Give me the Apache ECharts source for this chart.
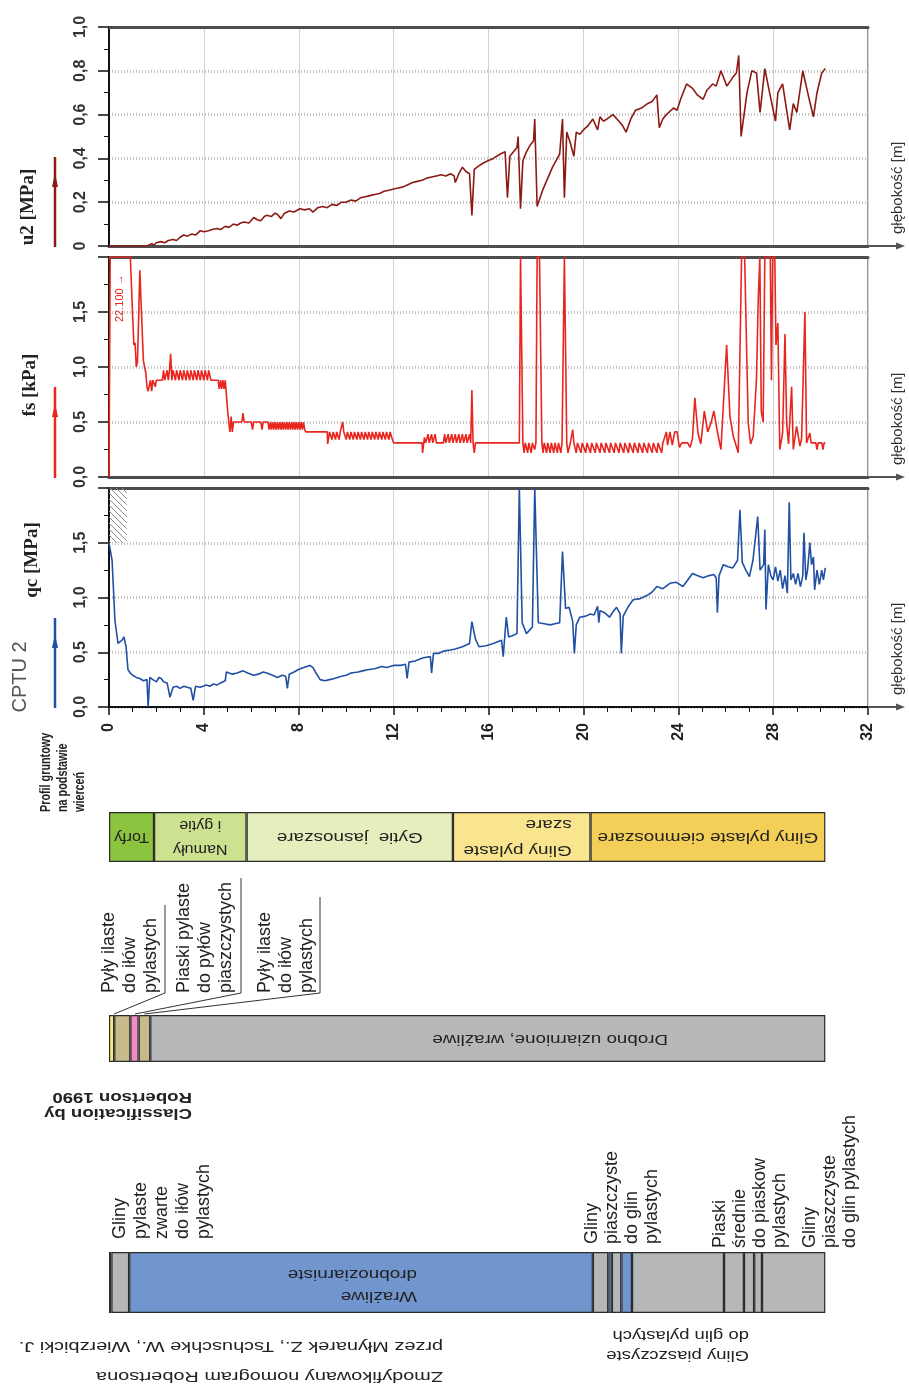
<!DOCTYPE html>
<html><head><meta charset="utf-8">
<script src="https://cdn.jsdelivr.net/npm/echarts@6/dist/echarts.min.js"></script>
<style>html,body{margin:0;padding:0;background:#fff}#c{width:909px;height:1388px}</style>
</head><body><div id="c"></div>
<script>
// ---------------- DATA ----------------
// depth [m], value
const u2Data = [[0,0],[1.6,0],[1.8,0.01],[1.9,0.005],[2.0,0.015],[2.2,0.02],[2.35,0.015],[2.5,0.025],[2.7,0.03],[2.85,0.025],[3.0,0.04],[3.15,0.05],[3.3,0.045],[3.5,0.055],[3.65,0.05],[3.85,0.07],[4.0,0.065],[4.2,0.07],[4.35,0.075],[4.55,0.08],[4.7,0.075],[4.9,0.09],[5.05,0.085],[5.25,0.10],[5.4,0.095],[5.55,0.105],[5.7,0.11],[5.9,0.105],[6.1,0.13],[6.25,0.12],[6.4,0.115],[6.55,0.135],[6.65,0.14],[6.85,0.135],[7.0,0.15],[7.1,0.145],[7.25,0.125],[7.4,0.15],[7.6,0.16],[7.8,0.155],[8.05,0.17],[8.25,0.165],[8.45,0.17],[8.6,0.155],[8.8,0.175],[9.0,0.18],[9.2,0.175],[9.4,0.19],[9.6,0.185],[9.8,0.2],[10.0,0.2],[10.2,0.21],[10.4,0.205],[10.6,0.22],[10.8,0.225],[11.0,0.23],[11.2,0.235],[11.4,0.24],[11.6,0.25],[11.8,0.255],[12.0,0.26],[12.2,0.265],[12.4,0.27],[12.6,0.28],[12.8,0.29],[13.0,0.295],[13.2,0.30],[13.4,0.31],[13.6,0.315],[13.8,0.32],[14.0,0.325],[14.2,0.32],[14.4,0.33],[14.55,0.32],[14.6,0.29],[14.75,0.33],[14.9,0.36],[15.05,0.34],[15.2,0.33],[15.3,0.14],[15.4,0.35],[15.65,0.37],[15.8,0.38],[16.0,0.39],[16.2,0.40],[16.5,0.42],[16.7,0.43],[16.8,0.22],[16.9,0.41],[17.2,0.45],[17.25,0.50],[17.35,0.17],[17.45,0.39],[17.6,0.43],[17.75,0.46],[17.9,0.48],[17.95,0.58],[18.05,0.18],[18.3,0.26],[18.5,0.31],[18.7,0.36],[18.85,0.39],[19.0,0.42],[19.12,0.58],[19.2,0.22],[19.3,0.52],[19.45,0.47],[19.6,0.41],[19.7,0.52],[19.85,0.51],[20.0,0.53],[20.2,0.55],[20.4,0.58],[20.6,0.53],[20.7,0.59],[20.85,0.57],[21.0,0.58],[21.25,0.60],[21.5,0.57],[21.65,0.55],[21.8,0.52],[22.0,0.58],[22.2,0.62],[22.45,0.63],[22.7,0.65],[22.9,0.66],[23.1,0.69],[23.2,0.54],[23.35,0.58],[23.5,0.60],[23.8,0.63],[23.95,0.62],[24.1,0.67],[24.35,0.74],[24.6,0.72],[24.8,0.69],[25.05,0.67],[25.2,0.71],[25.45,0.74],[25.6,0.73],[25.8,0.80],[26.05,0.73],[26.3,0.77],[26.45,0.79],[26.55,0.87],[26.65,0.50],[26.9,0.70],[27.1,0.80],[27.3,0.79],[27.45,0.61],[27.65,0.81],[27.85,0.70],[28.1,0.57],[28.2,0.70],[28.4,0.74],[28.5,0.67],[28.7,0.53],[28.85,0.65],[29.0,0.61],[29.25,0.80],[29.5,0.68],[29.7,0.59],[29.85,0.70],[30.05,0.79],[30.2,0.81]];

const fsData = [[0,0],[0.05,2],[0.9,2],[1.0,1.45],[1.05,1.2],[1.1,1.22],[1.15,1.0],[1.2,1.05],[1.25,1.45],[1.3,1.88],[1.35,1.6],[1.45,1.06],[1.5,1.0],[1.55,0.95],[1.6,0.82],[1.65,0.78],[1.75,0.88],[1.8,0.78],[1.85,0.88],[1.95,0.82],[2.0,0.88],[2.25,0.88],
[2.3,0.97],[2.35,0.88],[2.45,0.97],[2.5,0.88],[2.55,0.97],[2.6,1.12],[2.65,0.88],[2.7,0.97],[2.8,0.88],[2.85,0.97],[2.95,0.88],[3.0,0.97],[3.1,0.88],[3.15,0.97],[3.25,0.88],[3.3,0.97],[3.4,0.88],[3.45,0.97],[3.55,0.88],[3.6,0.97],[3.7,0.88],[3.75,0.97],[3.85,0.88],[3.9,0.97],[4.0,0.88],[4.05,0.97],[4.15,0.88],[4.2,0.97],[4.3,0.88],[4.6,0.88],[4.65,0.8],[4.7,0.88],[4.75,0.8],[4.8,0.88],[4.85,0.8],[4.9,0.88],[4.95,0.88],
[5.0,0.61],[5.05,0.5],[5.1,0.41],[5.15,0.55],[5.2,0.41],[5.25,0.5],[5.6,0.5],[5.65,0.58],[5.7,0.5],[6.0,0.5],[6.05,0.43],[6.1,0.5],[6.4,0.5],[6.45,0.43],[6.5,0.5],[6.7,0.5],
[6.75,0.43],[6.8,0.5],[6.85,0.43],[6.9,0.5],[6.95,0.43],[7.0,0.5],[7.05,0.43],[7.1,0.5],[7.15,0.43],[7.2,0.5],[7.25,0.43],[7.3,0.5],[7.35,0.43],[7.4,0.5],[7.45,0.43],[7.5,0.5],[7.55,0.43],[7.6,0.5],[7.65,0.43],[7.7,0.5],[7.75,0.43],[7.8,0.5],[7.85,0.43],[7.9,0.5],[7.95,0.43],[8.0,0.5],[8.05,0.43],[8.1,0.5],[8.15,0.43],[8.2,0.5],[8.25,0.43],[8.3,0.41],
[9.2,0.41],[9.22,0.3],[9.3,0.41],[9.4,0.34],[9.45,0.41],[9.55,0.34],[9.6,0.41],[9.7,0.34],[9.75,0.41],[9.85,0.5],[9.9,0.41],[10.0,0.34],[10.05,0.41],[10.15,0.34],[10.2,0.41],[10.3,0.34],[10.35,0.41],[10.45,0.34],[10.5,0.41],[10.6,0.34],[10.65,0.41],[10.75,0.34],[10.8,0.41],[10.9,0.34],[10.95,0.41],[11.05,0.34],[11.1,0.41],[11.2,0.34],[11.25,0.41],[11.35,0.34],[11.4,0.41],[11.5,0.34],[11.55,0.41],[11.65,0.34],[11.7,0.41],[11.8,0.34],[11.85,0.41],[11.95,0.34],[12.0,0.31],
[13.2,0.31],[13.22,0.22],[13.3,0.36],[13.35,0.31],[13.45,0.39],[13.5,0.31],[13.6,0.39],[13.65,0.31],[13.75,0.39],[13.8,0.31],[14.1,0.31],[14.15,0.39],[14.2,0.31],[14.3,0.39],[14.35,0.31],[14.45,0.39],[14.5,0.31],[14.6,0.39],[14.65,0.31],[14.75,0.39],[14.8,0.31],[14.9,0.39],[14.95,0.31],[15.05,0.39],[15.1,0.31],[15.2,0.39],[15.25,0.31],[15.3,0.79],[15.35,0.31],[15.4,0.22],[15.45,0.31],
[17.3,0.31],[17.35,2],[17.45,0.31],[17.5,0.22],[17.55,0.31],[17.65,0.22],[17.7,0.31],[17.8,0.22],[17.85,0.31],[17.95,0.25],[18.0,0.31],[18.05,2],[18.15,2],[18.25,0.31],[18.3,0.22],[18.35,0.31],[18.45,0.22],[18.5,0.31],[18.6,0.22],[18.65,0.31],[18.75,0.22],[18.8,0.31],[18.9,0.22],[18.95,0.31],[19.05,0.22],[19.1,0.31],[19.2,2],[19.3,0.31],[19.35,0.22],[19.45,0.31],[19.55,0.43],[19.6,0.31],[19.7,0.22],[19.75,0.31],
[19.9,0.22],[19.95,0.31],[20.1,0.22],[20.15,0.31],[20.3,0.22],[20.35,0.31],[20.5,0.22],[20.55,0.31],[20.7,0.22],[20.75,0.31],[20.9,0.22],[20.95,0.31],[21.1,0.22],[21.15,0.31],[21.3,0.22],[21.35,0.31],[21.5,0.22],[21.55,0.31],[21.7,0.22],[21.75,0.31],[21.9,0.22],[21.95,0.31],[22.1,0.22],[22.15,0.31],[22.3,0.22],[22.35,0.31],[22.5,0.22],[22.55,0.31],[22.7,0.22],[22.75,0.31],[22.9,0.22],[22.95,0.31],[23.1,0.22],[23.15,0.31],[23.3,0.22],[23.35,0.31],
[23.5,0.41],[23.55,0.29],[23.65,0.41],[23.75,0.29],[23.85,0.41],[23.95,0.41],[24.05,0.27],[24.15,0.31],[24.4,0.31],[24.5,0.27],[24.6,0.35],[24.7,0.72],[24.83,0.40],[24.95,0.3],[25.1,0.6],[25.24,0.41],[25.38,0.49],[25.5,0.6],[25.66,0.4],[25.8,0.25],[26.04,1.2],[26.18,0.55],[26.32,0.37],[26.53,0.22],[26.67,2],[26.8,2],[26.95,0.49],[27.05,0.3],[27.16,0.37],[27.3,0.9],[27.37,1.6],[27.44,2],[27.5,0.6],[27.58,0.5],[27.65,2],[27.88,2],[27.93,0.88],[27.98,2],[28.07,2],[28.12,1.2],[28.2,1.4],[28.28,0.25],[28.4,0.4],[28.5,1.3],[28.57,0.49],[28.65,0.3],[28.78,0.82],[28.85,0.25],[28.99,0.46],[29.13,0.28],[29.2,0.35],[29.34,1.5],[29.41,0.31],[29.55,0.4],[29.6,0.31],[29.8,0.31],[29.85,0.25],[29.9,0.31],[30.05,0.31],[30.1,0.25],[30.15,0.31],[30.2,0.31]];

const qcData = [[0,1.50],[0.13,1.34],[0.25,0.79],[0.38,0.58],[0.55,0.61],[0.63,0.64],[0.72,0.55],[0.8,0.34],[0.9,0.31],[1.0,0.29],[1.15,0.27],[1.3,0.26],[1.45,0.24],[1.6,0.25],[1.65,0.0],[1.72,0.27],[1.85,0.25],[2.0,0.23],[2.1,0.27],[2.2,0.26],[2.3,0.23],[2.45,0.22],[2.57,0.09],[2.7,0.18],[2.85,0.19],[3.0,0.17],[3.15,0.19],[3.3,0.18],[3.45,0.17],[3.55,0.06],[3.65,0.19],[3.85,0.18],[4.1,0.20],[4.25,0.19],[4.4,0.21],[4.55,0.20],[4.7,0.22],[4.9,0.24],[4.95,0.32],[5.2,0.30],[5.4,0.31],[5.65,0.33],[5.85,0.31],[6.1,0.29],[6.3,0.30],[6.5,0.32],[6.65,0.31],[6.9,0.29],[7.1,0.27],[7.3,0.29],[7.45,0.28],[7.52,0.17],[7.6,0.30],[7.8,0.32],[7.97,0.34],[8.2,0.36],[8.47,0.38],[8.6,0.36],[8.7,0.32],[8.9,0.25],[9.1,0.24],[9.3,0.25],[9.5,0.26],[9.8,0.28],[10.0,0.29],[10.2,0.31],[10.5,0.32],[10.7,0.33],[10.9,0.34],[11.2,0.35],[11.5,0.37],[11.7,0.36],[12.0,0.38],[12.3,0.38],[12.5,0.39],[12.57,0.26],[12.65,0.41],[12.9,0.42],[13.25,0.45],[13.55,0.46],[13.6,0.31],[13.68,0.49],[13.9,0.49],[14.1,0.51],[14.4,0.52],[14.6,0.53],[14.9,0.55],[15.2,0.58],[15.3,0.78],[15.45,0.62],[15.6,0.55],[15.9,0.56],[16.2,0.58],[16.55,0.61],[16.62,0.46],[16.75,0.82],[16.85,0.64],[17.0,0.65],[17.2,0.67],[17.3,2.0],[17.42,0.77],[17.6,0.67],[17.85,0.73],[17.95,2.0],[18.1,0.77],[18.35,0.76],[18.6,0.75],[18.8,0.76],[19.0,0.77],[19.12,1.42],[19.25,0.90],[19.4,0.91],[19.55,0.78],[19.62,0.49],[19.7,0.75],[19.85,0.82],[20.1,0.83],[20.3,0.85],[20.45,0.84],[20.6,0.92],[20.65,0.77],[20.7,0.88],[20.9,0.86],[21.1,0.82],[21.25,0.87],[21.4,0.91],[21.55,0.85],[21.6,0.49],[21.68,0.83],[21.9,0.92],[22.1,0.98],[22.4,0.99],[22.7,1.02],[22.9,1.05],[23.1,1.10],[23.35,1.08],[23.65,1.13],[23.9,1.14],[24.2,1.10],[24.4,1.16],[24.6,1.22],[24.8,1.20],[25.05,1.18],[25.3,1.20],[25.5,1.21],[25.6,1.18],[25.65,0.86],[25.72,1.20],[25.9,1.30],[26.1,1.28],[26.3,1.27],[26.5,1.34],[26.6,1.80],[26.7,1.32],[26.85,1.25],[27.0,1.19],[27.15,1.34],[27.35,1.74],[27.45,1.25],[27.6,1.30],[27.65,1.62],[27.7,0.89],[27.8,1.30],[27.9,1.20],[28.0,1.16],[28.1,1.28],[28.2,1.15],[28.3,1.25],[28.4,1.08],[28.5,1.20],[28.6,1.04],[28.68,1.87],[28.75,1.16],[28.85,1.22],[28.95,1.12],[29.05,1.22],[29.15,1.10],[29.25,1.20],[29.3,1.59],[29.38,1.16],[29.45,1.25],[29.55,1.50],[29.62,1.30],[29.7,1.37],[29.75,1.07],[29.85,1.25],[29.95,1.12],[30.05,1.25],[30.12,1.16],[30.2,1.27]];

const qcHatch = [[0, 1.5], [0.75, 2.0]];   // out-of-range zone (depth, qc)

const soilNames  = ['Torfy', 'Namuły\ni gytie', 'Gytie  jasnoszare', 'Gliny pylaste\nszare', 'Gliny pylaste ciemnoszare'];
const soilTop    = [0, 1.9, 5.8, 14.5, 20.3];
const soilBottom = [1.9, 5.8, 14.5, 20.3, 30.2];
const soilColors = ['#8CC43F', '#CCE290', '#E5EFBE', '#F8E58E', '#F3CF58'];

const robNames  = ['', '', '', '', 'Drobno uziarnione, wrażliwe'];
const robTop    = [0, 0.22, 0.9, 1.25, 1.74];
const robBottom = [0.22, 0.9, 1.25, 1.74, 30.2];
const robColors = ['#F4EC80', '#C9BA8C', '#F08CC4', '#C9BA8C', '#B5B7B9'];

const nomTop    = [0, 0.1, 0.85, 20.4, 21.05, 21.2, 21.6, 22.05, 25.93, 26.77, 27.2, 27.53];
const nomBottom = [0.1, 0.85, 20.4, 21.05, 21.2, 21.6, 22.05, 25.93, 26.77, 27.2, 27.53, 30.2];
const nomColors = ['#B5B7B9', '#B5B7B9', '#7196CE', '#B5B7B9', '#7196CE', '#B5B7B9', '#7196CE', '#B5B7B9', '#B5B7B9', '#B5B7B9', '#B5B7B9', '#B5B7B9'];

// ---------------- LAYOUT ----------------
const L = 109, W = 759;
const panels = [{top:27,h:219},{top:257,h:220},{top:488,h:219}];
const bars = [{top:812,h:50},{top:1015,h:47},{top:1252,h:61}];
const FONT = 'Liberation Sans';

const comma = v => v.toFixed(1).replace('.', ',');

const hatch = document.createElement('canvas');
hatch.width = 6; hatch.height = 6;
(function(){const c = hatch.getContext('2d'); c.strokeStyle = '#8c8c8c'; c.lineWidth = 1;
  [[0,0,6,6],[-3,3,3,9],[3,-3,9,3]].forEach(s=>{c.beginPath();c.moveTo(s[0],s[1]);c.lineTo(s[2],s[3]);c.stroke();});})();

const chart = echarts.init(document.getElementById('c'), null, {renderer:'canvas'});

const grids = panels.map(p => ({left:L, width:W, top:p.top, height:p.h, show:true, borderColor:'#333', borderWidth:1, backgroundColor:'transparent'}))
  .concat(bars.map(b => ({left:L, width:W, top:b.top, height:b.h, show:false})));

const xBase = {type:'value', min:0, max:32, interval:4};
const splitV = {show:true, lineStyle:{color:'#d2d2d2', width:1}};
const xAxes = [
  Object.assign({}, xBase, {gridIndex:0, axisLine:{lineStyle:{color:'#4d4d4d', width:3}}, axisTick:{show:false}, axisLabel:{show:false}, splitLine:splitV}),
  Object.assign({}, xBase, {gridIndex:1, axisLine:{lineStyle:{color:'#4d4d4d', width:3}}, axisTick:{show:false}, axisLabel:{show:false}, splitLine:splitV}),
  Object.assign({}, xBase, {gridIndex:2, axisLine:{lineStyle:{color:'#111', width:2}},
    axisTick:{show:true, length:8, lineStyle:{color:'#111', width:1.5}},
    minorTick:{show:true, splitNumber:4, length:5, lineStyle:{color:'#111', width:1}},
    axisLabel:{rotate:90, margin:16, fontSize:16, fontWeight:'bold', color:'#222', fontFamily:FONT}, splitLine:splitV}),
  Object.assign({}, xBase, {gridIndex:0, position:'top', axisLine:{lineStyle:{color:'#4d4d4d', width:3}}, axisTick:{show:false}, axisLabel:{show:false}, splitLine:{show:false}}),
  Object.assign({}, xBase, {gridIndex:1, position:'top', axisLine:{lineStyle:{color:'#4d4d4d', width:3}}, axisTick:{show:false}, axisLabel:{show:false}, splitLine:{show:false}}),
  Object.assign({}, xBase, {gridIndex:2, position:'top', axisLine:{lineStyle:{color:'#4d4d4d', width:3}}, axisTick:{show:false}, axisLabel:{show:false}, splitLine:{show:false}}),
  Object.assign({}, xBase, {gridIndex:3, show:false}),
  Object.assign({}, xBase, {gridIndex:4, show:false}),
  Object.assign({}, xBase, {gridIndex:5, show:false})
];

function yVal(gi, max, interval, fmt) {
  return {type:'value', gridIndex:gi, min:0, max:max, interval:interval,
    axisLine:{show:true, lineStyle:{color:'#111', width:2}},
    axisTick:{show:true, length:11, lineStyle:{color:'#111', width:1.5}},
    minorTick:{show:true, splitNumber:2, length:5, lineStyle:{color:'#111', width:1}},
    splitLine:{show:true, lineStyle:{color:'#c6c6c6', width:3, type:[1,2]}},
    axisLabel:{rotate:90, margin:20, fontSize:16, fontWeight:'bold', color:'#333', fontFamily:FONT, formatter:fmt}};
}
const yAxes = [
  yVal(0, 1, 0.2, v => v === 0 ? '0' : comma(v)),
  yVal(1, 2, 0.5, v => v >= 2 ? '' : comma(v)),
  yVal(2, 2, 0.5, v => v >= 2 ? '' : comma(v)),
  {type:'category', gridIndex:3, data:['p'], show:false},
  {type:'category', gridIndex:4, data:['p'], show:false},
  {type:'category', gridIndex:5, data:['p'], show:false}
];

function lineSeries(data, ax, color, extra) {
  return Object.assign({type:'line', xAxisIndex:ax, yAxisIndex:ax, data:data, showSymbol:false, symbol:'none',
    clip:true, silent:true, animation:false, lineStyle:{color:color, width:1.6}, z:5}, extra || {});
}
function stackBars(tops, bottoms, colors, ax, stack) {
  return tops.map((t, i) => ({type:'bar', xAxisIndex:ax, yAxisIndex:ax-3, stack:stack,
    data:[+(bottoms[i] - t).toFixed(3)], barWidth:'100%', silent:true, animation:false,
    itemStyle:{color:colors[i], borderColor:'#2b2b2b', borderWidth:1.2}}));
}

const series = [
  lineSeries(u2Data, 0, '#8B1A14'),
  lineSeries(fsData, 1, '#E8261F'),
  lineSeries(qcData, 2, '#2150A3', {markArea:{silent:true, itemStyle:{color:{image:hatch, repeat:'repeat'}, borderWidth:0},
    data:[[{xAxis:qcHatch[0][0], yAxis:qcHatch[0][1]}, {xAxis:qcHatch[1][0], yAxis:qcHatch[1][1]}]]}})
].concat(stackBars(soilTop, soilBottom, soilColors, 6, 'soil'))
 .concat(stackBars(robTop, robBottom, robColors, 7, 'rob'))
 .concat(stackBars(nomTop, nomBottom, nomColors, 8, 'nom'));

chart.setOption({backgroundColor:'#ffffff', animation:false, grid:grids, xAxis:xAxes, yAxis:yAxes, series:series});

// ---------------- TEXT / ANNOTATIONS ----------------
function T(x, y, text, o) {
  o = o || {};
  const st = {text:text, fill:o.color || '#222', fontSize:o.size || 16, fontFamily:o.family || FONT,
    fontWeight:o.weight || 'normal', textAlign:o.align || 'left', align:o.align || 'left',
    textVerticalAlign:o.valign || 'top', verticalAlign:o.valign || 'top', lineHeight:o.lh || Math.round((o.size||16)*1.2)};
  return {type:'text', x:x, y:y, rotation:o.rot || 0, scaleX:o.sx || 1, scaleY:o.sy || 1, style:st, silent:true, z:100};
}
const UP = Math.PI / 2, FLIP = Math.PI;
const px = (ax, v) => chart.convertToPixel({xAxisIndex:ax}, v);
const g = [];

// left axis titles
g.push(T(28, 207, 'u2 [MPa]', {rot:UP, align:'center', valign:'middle', size:19, weight:'bold', family:'Liberation Serif'}));
g.push(T(30, 385, 'fs [kPa]', {rot:UP, align:'center', valign:'middle', size:19, weight:'bold', family:'Liberation Serif'}));
g.push(T(32, 560, 'qc [MPa]', {rot:UP, align:'center', valign:'middle', size:19, weight:'bold', family:'Liberation Serif'}));
g.push(T(20, 677, 'CPTU 2', {rot:UP, align:'center', valign:'middle', size:20, color:'#555'}));
// legend strokes
[[157,247,'#8B1A14'],[387,478,'#E8261F'],[618,708,'#2150A3']].forEach(s => {
  g.push({type:'line', shape:{x1:55, y1:s[0], x2:55, y2:s[1]}, style:{stroke:s[2], lineWidth:2.5}, silent:true, z:100});
  g.push({type:'polygon', shape:{points:[[55,s[0]+16],[52,s[0]+30],[58,s[0]+30]]}, style:{fill:s[2]}, silent:true, z:100});
});
// right depth arrows and titles
panels.forEach(p => {
  const y = p.top + p.h;
  g.push({type:'line', shape:{x1:868, y1:y, x2:900, y2:y}, style:{stroke:'#555', lineWidth:2}, silent:true, z:100});
  g.push({type:'polygon', shape:{points:[[896,y-3.5],[905,y],[896,y+3.5]]}, style:{fill:'#555'}, silent:true, z:100});
  g.push(T(889, y - 12, 'głębokość [m]', {rot:UP, size:15, color:'#333'}));
});
g.push(T(113, 322, '22.100 →', {rot:UP, size:11, color:'#E8261F'}));

// soil profile heading
g.push(T(37, 812, 'Profil gruntowy\nna podstawie\nwierceń', {rot:UP, size:15, weight:'bold', lh:17, sx:0.72}));

// soil profile labels (upside down)
const soilCY = bars[0].top + bars[0].h / 2;
soilNames.forEach((n, i) => {
  const cx = px(6, (soilTop[i] + soilBottom[i]) / 2);
  if (i === 3) g.push(T(cx + 50, soilCY, n, {rot:FLIP, size:14, sx:1.35, valign:'middle', lh:26}));
  else g.push(T(cx, soilCY, n, {rot:FLIP, size:14, sx:(i < 2 ? 1.15 : 1.35), align:'center', valign:'middle', lh:24}));
});
// Robertson classification
g.push(T(192, 1105, 'Classification by\nRobertson 1990', {rot:FLIP, size:14, weight:'bold', sx:1.33, valign:'middle', lh:16}));
g.push(T(px(7, 18.6), bars[1].top + bars[1].h / 2, robNames[4], {rot:FLIP, size:14, sx:1.34, align:'center', valign:'middle'}));
[[99,'Pyły ilaste\ndo iłów\npylastych',165,905,114],[174,'Piaski pylaste\ndo pyłów\npiaszczystych',241,878,135],[255,'Pyły ilaste\ndo iłów\npylastych',320,897,144.5]].forEach(c => {
  g.push(T(c[0], 993, c[1], {rot:UP, size:18, lh:21}));
  g.push({type:'polyline', shape:{points:[[c[2],c[3]],[c[2],993],[c[4],1014]]}, style:{stroke:'#333', lineWidth:1, fill:null}, silent:true, z:100});
});
// nomogram
g.push(T(417, 1285, 'Wrażliwe\ndrobnoziarniste', {rot:FLIP, size:14, sx:1.35, valign:'middle', lh:22}));
g.push(T(110, 1239, 'Gliny\npylaste\nzwarte\ndo iłów\npylastych', {rot:UP, size:18, lh:21}));
g.push(T(582, 1244, 'Gliny\npiaszczyste\ndo glin\npylastych', {rot:UP, size:18, lh:20}));
g.push(T(710, 1248, 'Piaski\nśrednie\ndo piaskow\npylastych', {rot:UP, size:18, lh:20}));
g.push(T(800, 1248, 'Gliny\npiaszczyste\ndo glin pylastych', {rot:UP, size:18, lh:20}));
g.push(T(749, 1345, 'Gliny piaszczyste\ndo glin pylastych', {rot:FLIP, size:14, sx:1.32, valign:'middle', lh:20}));
g.push(T(443, 1361, 'Zmodyfikowany nomogram Robertsona\nprzez Młynarek Z., Tschuschke W., Wierzbicki J.', {rot:FLIP, size:14, sx:1.42, valign:'middle', lh:30}));

chart.setOption({graphic:{elements:g}});
</script></body></html>
